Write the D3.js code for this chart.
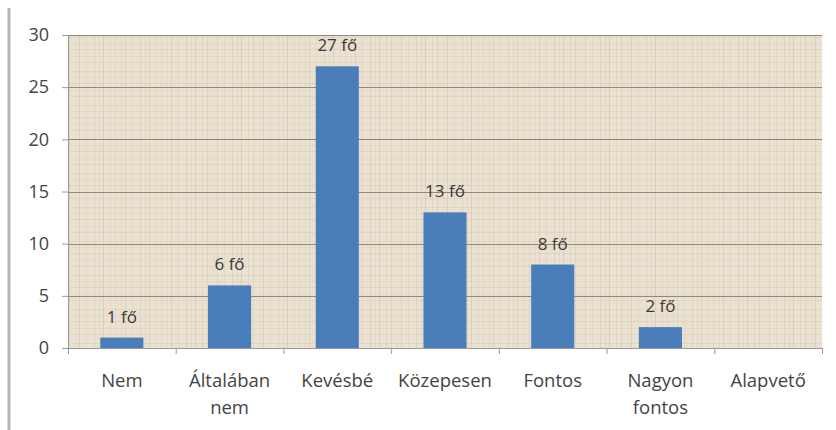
<!DOCTYPE html>
<html>
<head>
<meta charset="utf-8">
<script src="https://cdn.jsdelivr.net/npm/d3@7"></script>
<style>
html,body{margin:0;padding:0;background:#fff;}
svg{display:block;}
text{font-family:"Open Sans",Lato,sans-serif;}
</style>
</head>
<body>
<svg id="chart" width="836" height="430"></svg>
<script>
const categories = ["Nem", "Általában nem", "Kevésbé", "Közepesen", "Fontos", "Nagyon fontos", "Alapvető"];
const categoryLines = [["Nem"], ["Általában", "nem"], ["Kevésbé"], ["Közepesen"], ["Fontos"], ["Nagyon", "fontos"], ["Alapvető"]];
const values = [1, 6, 27, 13, 8, 2, null];
const valueLabels = ["1 fő", "6 fő", "27 fő", "13 fő", "8 fő", "2 fő", ""];
const yTicks = [0, 5, 10, 15, 20, 25, 30];

const svg = d3.select("#chart");
const mLeft = 68, mRight = 822, mTop = 35, mBottom = 348;

// frame line on the left
svg.append("line").attr("x1", 9).attr("x2", 9).attr("y1", 8).attr("y2", 430)
  .attr("stroke", "#b4b4b4").attr("stroke-width", 3);

// textured background pattern
const defs = svg.append("defs");
const pat = defs.append("pattern").attr("id", "tex").attr("patternUnits", "userSpaceOnUse")
  .attr("width", 46).attr("height", 34);
pat.append("rect").attr("width", 46).attr("height", 34).attr("fill", "#eae1d1");
[[2,0.25],[7,0.15],[11,0.3],[18,0.18],[23,0.22],[29,0.12],[33,0.28],[40,0.17]].forEach(([px,o]) =>
  pat.append("rect").attr("x", px).attr("y", 0).attr("width", 1).attr("height", 34).attr("fill", "#b9ab92").attr("opacity", o));
[[3,0.2],[9,0.14],[15,0.24],[22,0.12],[28,0.2]].forEach(([py,o]) =>
  pat.append("rect").attr("x", 0).attr("y", py).attr("width", 46).attr("height", 1).attr("fill", "#b9ab92").attr("opacity", o));

const x = d3.scaleBand().domain(categories).range([mLeft, mRight]).paddingInner(0.6).paddingOuter(0.3);
const xb = d3.scaleBand().domain(categories).range([mLeft, mRight]);
const y = d3.scaleLinear().domain([0, 30]).range([mBottom, mTop]);

svg.append("rect").attr("x", mLeft).attr("y", mTop).attr("width", mRight - mLeft).attr("height", mBottom - mTop)
  .attr("fill", "url(#tex)");

// gridlines
svg.append("g").selectAll("line").data(yTicks.filter(d => d > 0)).join("line")
  .attr("x1", mLeft).attr("x2", mRight).attr("y1", d => Math.round(y(d)) + 0.5).attr("y2", d => Math.round(y(d)) + 0.5)
  .attr("stroke", "#8f897c").attr("stroke-width", 1);

const rows = categories.map((c, i) => ({c, v: values[i], l: valueLabels[i]})).filter(d => d.v != null);

// bars
svg.append("g").selectAll("rect").data(rows).join("rect")
  .attr("x", d => x(d.c)).attr("width", x.bandwidth())
  .attr("y", d => y(d.v)).attr("height", d => y(0) - y(d.v))
  .attr("fill", "#4a7ebb");

// value labels
svg.append("g").selectAll("text").data(rows).join("text")
  .attr("x", d => x(d.c) + x.bandwidth() / 2).attr("y", d => y(d.v) - 15)
  .attr("text-anchor", "middle").attr("font-size", 17).attr("fill", "#3a3a3a").text(d => d.l);

// y axis
const yAxis = svg.append("g").attr("transform", `translate(${mLeft},0)`)
  .call(d3.axisLeft(y).tickValues(yTicks).tickSize(6).tickPadding(13));
yAxis.select(".domain").attr("stroke", "#9a9a9a");
yAxis.selectAll(".tick line").attr("stroke", "#9a9a9a");
yAxis.selectAll("text").attr("font-size", 18).attr("fill", "#444").attr("font-family", "'Open Sans',Lato,sans-serif");

// x axis
const xAxis = svg.append("g").attr("transform", `translate(0,${mBottom})`)
  .call(d3.axisBottom(xb).tickValues([]).tickSize(0));
xAxis.select(".domain").attr("stroke", "#9a9a9a");
const bounds = categories.map(c => xb(c)).concat([mRight]);
xAxis.selectAll(".b").data(bounds).join("line").attr("class", "b")
  .attr("x1", d => d + 0.5).attr("x2", d => d + 0.5).attr("y1", 0).attr("y2", 6)
  .attr("stroke", "#9a9a9a");

const lab = svg.append("g");
categories.forEach((c, i) => {
  const cx = xb(c) + xb.bandwidth() / 2;
  const t = lab.append("text").attr("x", cx).attr("y", 387)
    .attr("text-anchor", "middle").attr("font-size", 18.5).attr("fill", "#444");
  categoryLines[i].forEach((ln, j) => t.append("tspan").attr("x", cx).attr("dy", j ? 27 : 0).text(ln));
});
</script>
</body>
</html>
